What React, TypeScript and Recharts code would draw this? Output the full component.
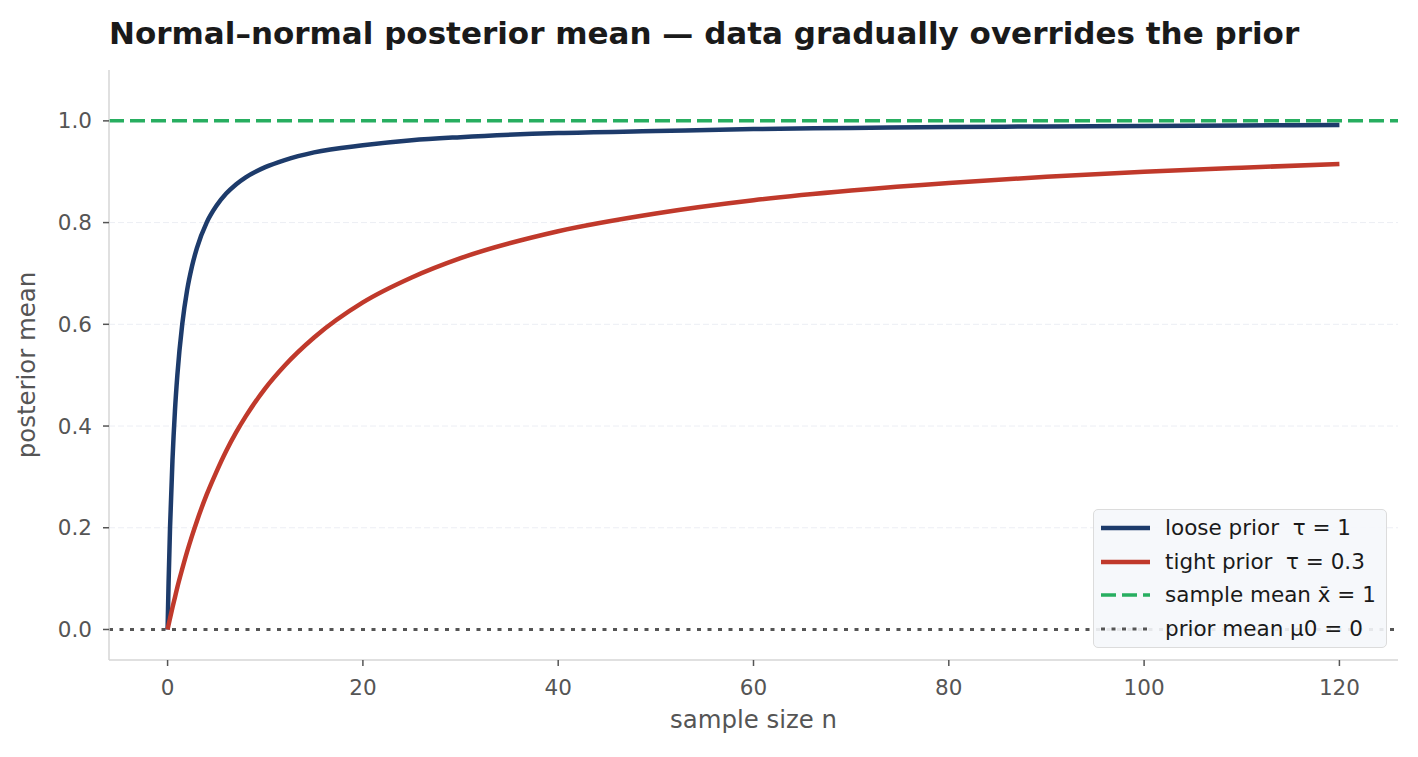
import React from 'react';
import { LineChart, Line, XAxis, YAxis, CartesianGrid, ReferenceLine, Label } from 'recharts';

// sample sizes n (denser near 0 where the loose prior curve is steep)
const sampleSizes = [0, 0.1, 0.25, 0.5, 0.75, 1, 1.5, 2, 2.5, 3, 4, 5, 6, 7, 8, 10, 12, 15, 20, 25, 30, 40, 50, 60, 70, 80, 90, 100, 110, 120];
const loosePrior = [0, 0.091, 0.2, 0.333, 0.429, 0.5, 0.6, 0.667, 0.714, 0.75, 0.8, 0.833, 0.857, 0.875, 0.889, 0.909, 0.923, 0.938, 0.952, 0.962, 0.968, 0.976, 0.98, 0.984, 0.986, 0.988, 0.989, 0.99, 0.991, 0.992];
const tightPrior = [0, 0.009, 0.022, 0.043, 0.063, 0.083, 0.119, 0.153, 0.184, 0.213, 0.265, 0.31, 0.351, 0.387, 0.419, 0.474, 0.519, 0.574, 0.643, 0.692, 0.73, 0.783, 0.818, 0.844, 0.863, 0.878, 0.89, 0.9, 0.908, 0.915];

const sampleMean = 1;
const priorMean = 0;

const xTicks = [0, 20, 40, 60, 80, 100, 120];
const yTicks = [0, 0.2, 0.4, 0.6, 0.8, 1.0];
const gridValues = [0.2, 0.4, 0.6, 0.8];

const legendItems = [
  { label: 'loose prior  τ = 1', color: '#1d3b6b', dash: undefined, width: 4.5 },
  { label: 'tight prior  τ = 0.3', color: '#c0392b', dash: undefined, width: 4.5 },
  { label: 'sample mean x\u0304 = 1', color: '#27ae60', dash: '15 6', width: 3.5 },
  { label: 'prior mean μ0 = 0', color: '#555555', dash: '4 6.5', width: 3.2 },
];

const data = sampleSizes.map((n, i) => ({ n, loose: loosePrior[i], tight: tightPrior[i] }));

const FONT = '"DejaVu Sans", sans-serif';
const TICK = { fill: '#555555', fontSize: 21.5, fontFamily: FONT };

const YLabel = (props: any) => {
  const vb = props.viewBox || { y: 70, height: 590 };
  const cx = 35;
  const cy = vb.y + vb.height / 2;
  return (
    <text x={cx} y={cy} transform={`rotate(-90 ${cx} ${cy})`} textAnchor="middle"
      fill="#555555" fontSize={24.4} fontFamily={FONT}>posterior mean</text>
  );
};

const App: React.FC = () => {
  return (
    <div style={{ position: 'fixed', left: 0, top: 0, width: 1418, height: 757, background: '#fff' }}>
      <div style={{
        position: 'absolute', left: 109, top: 18, fontFamily: FONT, fontWeight: 700,
        fontSize: 31, lineHeight: '31px', color: '#1a1a1a', whiteSpace: 'pre',
      }}>
        Normal–normal posterior mean — data gradually overrides the prior
      </div>
      <LineChart width={1418} height={757} data={data}
        margin={{ top: 70, right: 20, bottom: 0, left: 0 }}>
        <CartesianGrid vertical={false} horizontalValues={gridValues} stroke="#eceef4" strokeDasharray="6 3" />
        <XAxis dataKey="n" type="number" domain={[-6, 126]} ticks={xTicks}
          allowDataOverflow height={97}
          axisLine={{ stroke: '#d6d6d6', strokeWidth: 1.5 }}
          tickLine={{ stroke: '#555555', strokeWidth: 1.5 }}
          tickSize={6} tickMargin={14} tick={TICK}>
          <Label value="sample size n" position="insideBottom" offset={29}
            fill="#555555" fontSize={24.4} fontFamily={FONT} />
        </XAxis>
        <YAxis type="number" domain={[-0.06, 1.1]} ticks={yTicks} allowDataOverflow width={109}
          tickFormatter={(v: number) => v.toFixed(1)}
          axisLine={{ stroke: '#d6d6d6', strokeWidth: 1.5 }}
          tickLine={{ stroke: '#555555', strokeWidth: 1.5 }}
          tickSize={6} tickMargin={11} tick={TICK}>
          <Label content={<YLabel />} />
        </YAxis>
        <ReferenceLine y={sampleMean} stroke="#27ae60" strokeWidth={3.5} strokeDasharray="15 6" />
        <ReferenceLine y={priorMean} stroke="#555555" strokeWidth={3.2} strokeDasharray="4 6.5" />
        <Line type="monotone" dataKey="loose" stroke="#1d3b6b" strokeWidth={4.5} dot={false} isAnimationActive={false} />
        <Line type="monotone" dataKey="tight" stroke="#c0392b" strokeWidth={4.5} dot={false} isAnimationActive={false} />
      </LineChart>
      <div style={{
        position: 'absolute', left: 1093, top: 509, width: 292, height: 137,
        border: '1px solid #dcdcdc', borderRadius: 5, background: 'rgba(245,247,251,0.9)',
        fontFamily: FONT, fontSize: 21.5, color: '#1a1a1a',
      }}>
        {legendItems.map((item, i) => (
          <div key={item.label} style={{
            position: 'absolute', left: 7, top: 18 + i * 33.7 - 15, height: 30,
            display: 'flex', alignItems: 'center', whiteSpace: 'pre',
          }}>
            <svg width={49} height={30} style={{ display: 'block' }}>
              <line x1={0} x2={49} y1={15} y2={15} stroke={item.color}
                strokeWidth={item.width} strokeDasharray={item.dash} />
            </svg>
            <span style={{ marginLeft: 15, lineHeight: '30px' }}>{item.label}</span>
          </div>
        ))}
      </div>
    </div>
  );
};

export default App;
